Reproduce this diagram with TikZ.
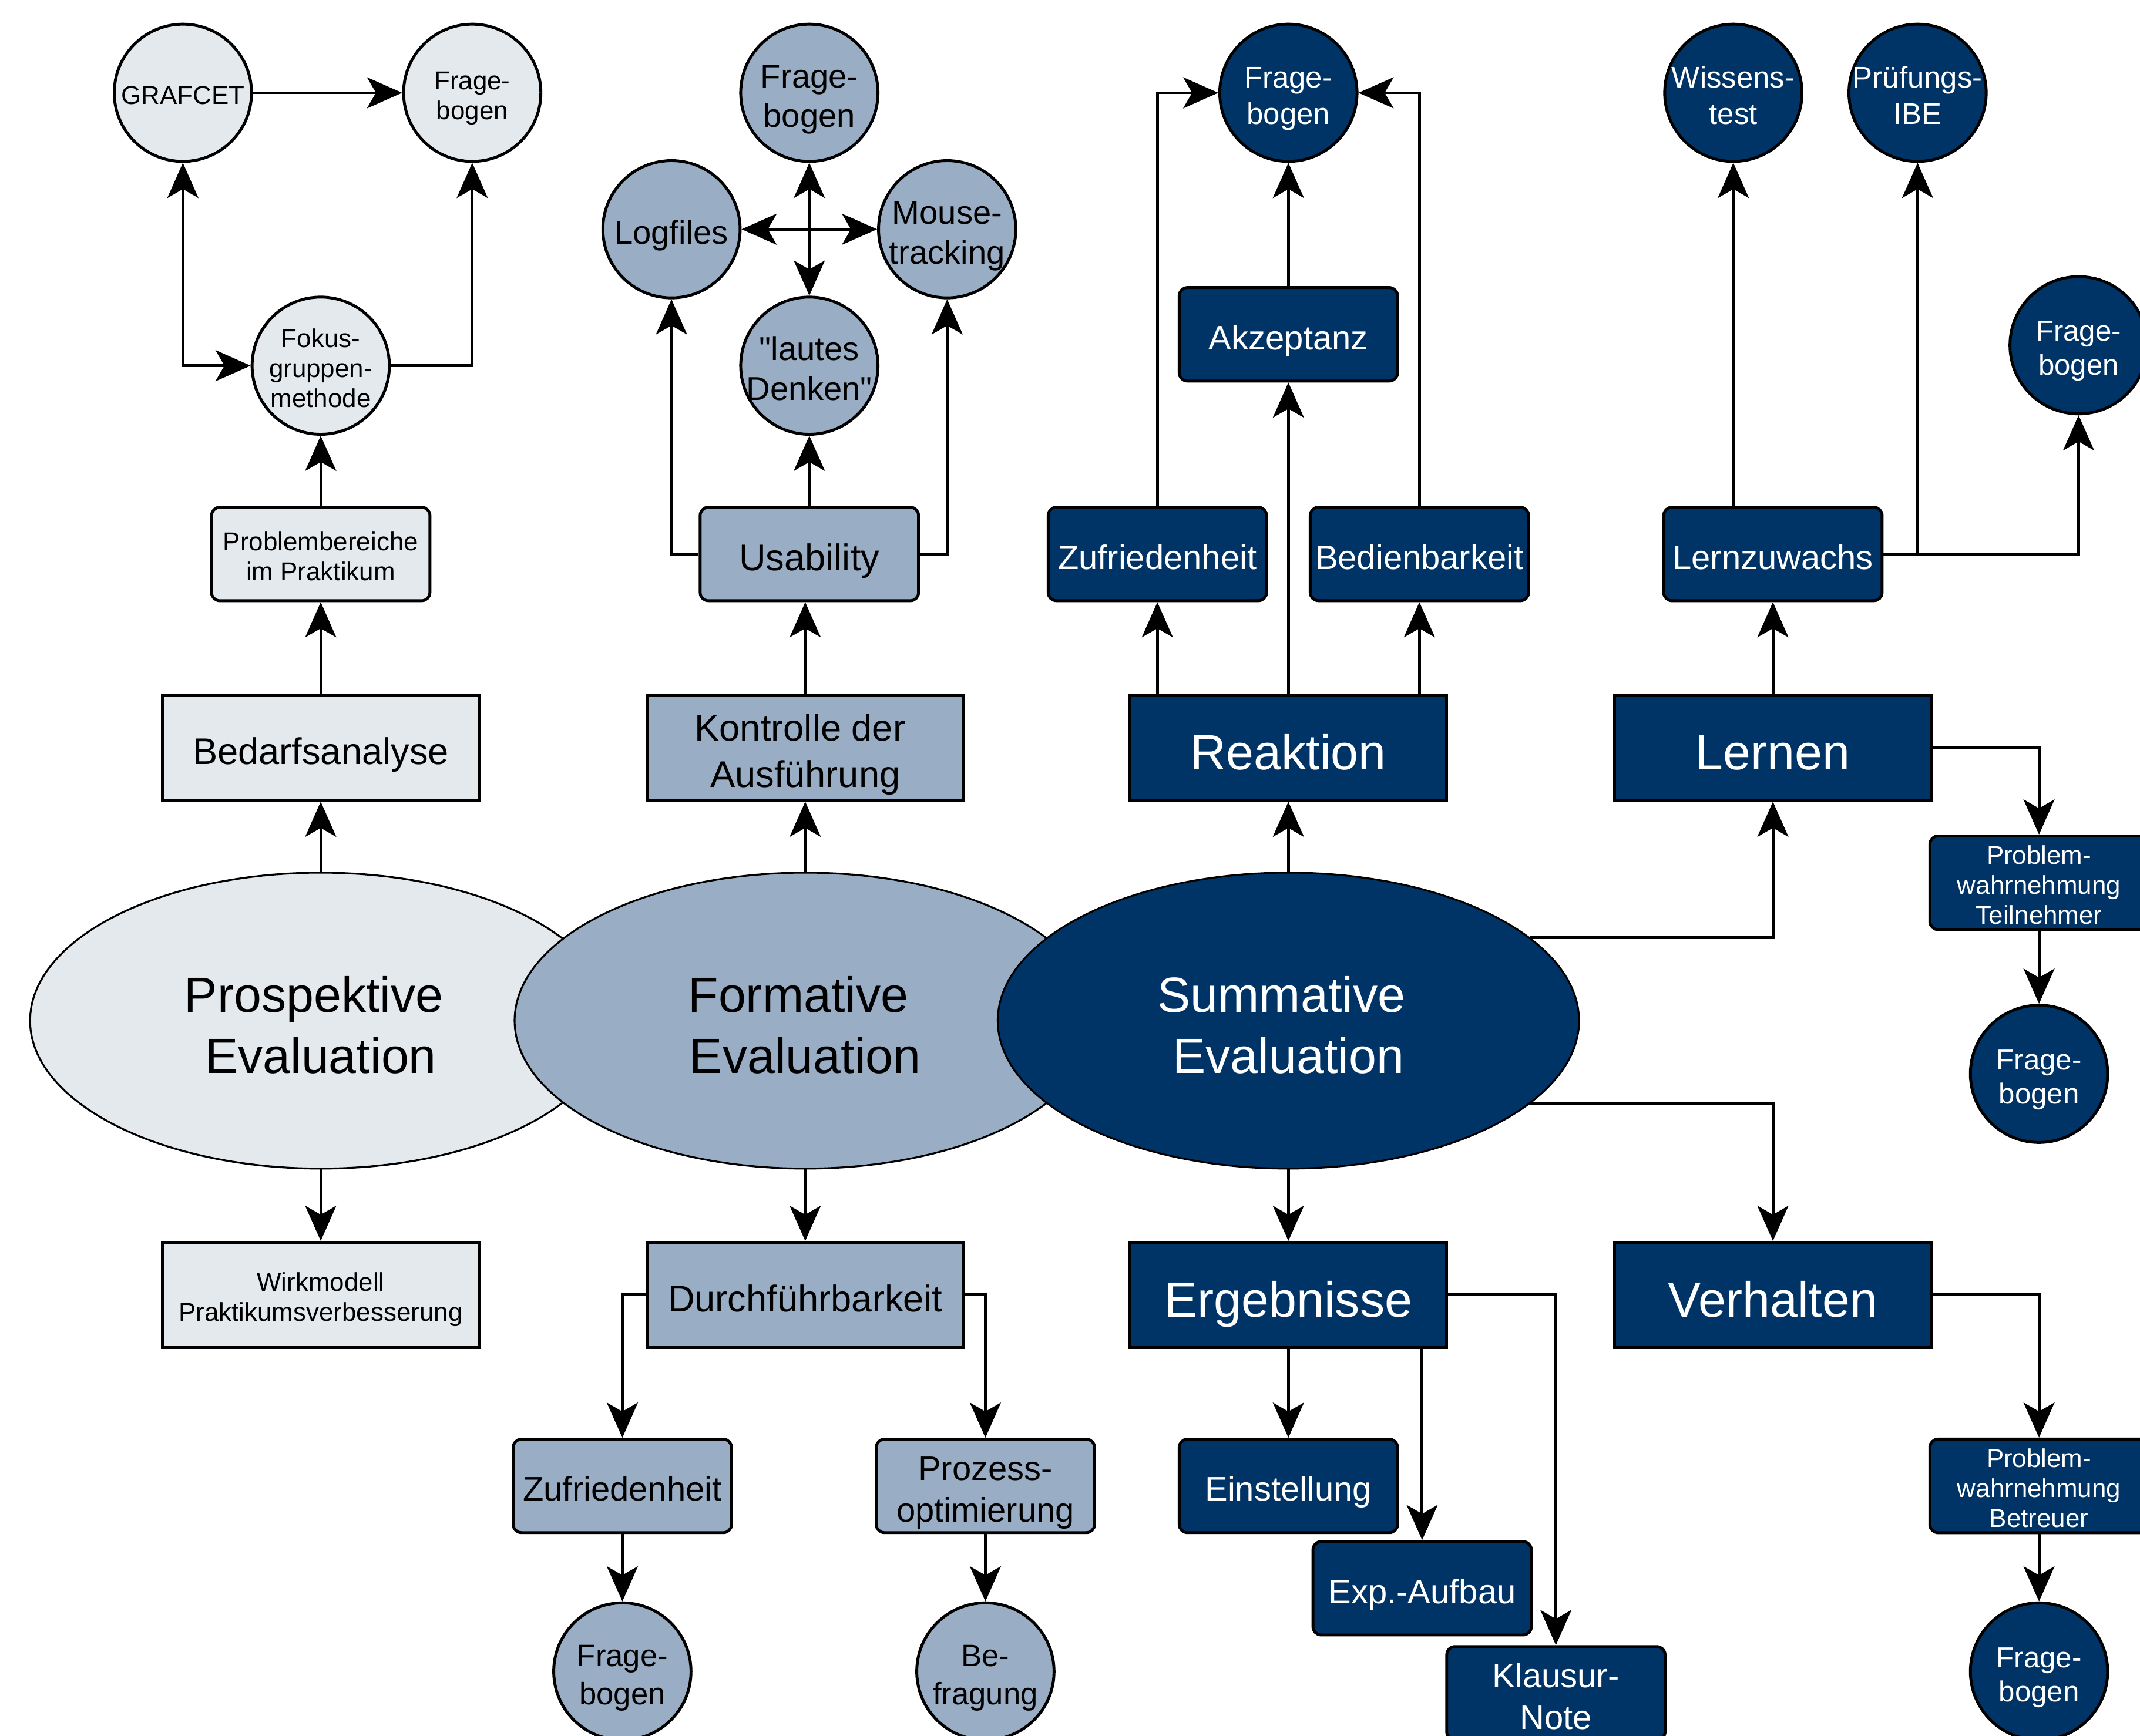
\documentclass[tikz,border=0pt]{standalone}
\usepackage{fontspec}
\setmainfont{Liberation Sans}[Ligatures=TeXOff]
\usetikzlibrary{shapes.geometric, arrows.meta}

\definecolor{lightfill}{RGB}{228,233,238}
\definecolor{midfill}{RGB}{153,174,196}
\definecolor{darkfill}{RGB}{0,51,102}

\begin{document}
\begin{tikzpicture}[x=0.023234cm, y=-0.023234cm, line width=1.4pt,
		>={Stealth[length=17pt, width=15pt, inset=4.3pt]},
		boxtext/.style={align=center, execute at begin node={\rule{0pt}{1.1em}}, execute at end node={\rule[-0.21em]{0pt}{0pt}}},
		nlines/.style={execute at begin node={\vrule width 0pt height \dimexpr#1\baselineskip-\baselineskip+1.1em\relax depth 0pt}},
		evalnode/.style={ellipse, draw, line width=0.9pt, minimum width=281.6pt, minimum height=143.4pt, inner sep=0pt, boxtext, nlines=2, font=\fontsize{24}{29.5}\selectfont},
		mainbox/.style={rectangle, draw, minimum width=153.4pt, minimum height=50.9pt, inner sep=0pt, boxtext},
		subbox/.style={rectangle, draw, rounded corners=4pt, minimum width=105.8pt, minimum height=45.3pt, inner sep=0pt, boxtext},
		leaf/.style={circle, draw, minimum size=66.5pt, inner sep=-6pt, boxtext},
		lightc/.style={fill=lightfill, text=black},
		midc/.style={fill=midfill, text=black},
		darkc/.style={fill=darkfill, text=white},
		sz125/.style={font=\fontsize{12.5}{14.5}\selectfont},
		sz14/.style={font=\fontsize{14}{16.5}\selectfont},
		sz145/.style={font=\fontsize{14.5}{17.8}\selectfont},
		sz15/.style={font=\fontsize{15}{18.5}\selectfont},
		sz16/.style={font=\fontsize{16}{19.2}\selectfont},
		sz165/.style={font=\fontsize{16.5}{20}\selectfont},
		sz18/.style={font=\fontsize{18}{22.5}\selectfont},
		sz24/.style={font=\fontsize{24}{29}\selectfont}]
	\useasboundingbox (0,0) rectangle (1568,1272);

	% evaluation types
	\node[evalnode, lightc] (prosp) at (235,748) {Prospektive\kern0.28em\\Evaluation};
	\node[evalnode, midc] (form) at (590,748) {Formative\kern0.28em\\Evaluation};
	\node[evalnode, darkc] (summ) at (944,748) {Summative\kern0.28em\\Evaluation};

	% prospective
	\node[mainbox, lightc, sz18] (bedarf) at (235,548) {Bedarfsanalyse};
	\node[mainbox, lightc, sz125, nlines=2] (wirk) at (235,949) {Wirkmodell\\Praktikumsverbesserung};
	\node[subbox, lightc, sz125, nlines=2] (probl) at (235,406) {Problembereiche\\im Praktikum};
	\node[leaf, lightc, sz125, nlines=3] (fokus) at (235,268) {Fokus-\\gruppen-\\methode};
	\node[leaf, lightc, sz125] (grafcet) at (134,68) {GRAFCET};
	\node[leaf, lightc, sz125, nlines=2] (frageA) at (346,68) {Frage-\\bogen};

	% formative
	\node[mainbox, midc, sz18, nlines=2] (kontr) at (590,548) {Kontrolle der\kern0.28em\\Ausführung};
	\node[mainbox, midc, sz18] (durch) at (590,949) {Durchführbarkeit};
	\node[subbox, midc, sz18] (usab) at (593,406) {Usability};
	\node[leaf, midc, sz16, nlines=2] (lautes) at (593,268) {"lautes\\Denken"};
	\node[leaf, midc, sz16] (logf) at (492,168) {Logfiles};
	\node[leaf, midc, sz16, nlines=2] (mouse) at (694,168) {Mouse-\\tracking};
	\node[leaf, midc, sz16, nlines=2] (frageB) at (593,68) {Frage-\\bogen};
	\node[subbox, midc, sz165] (zufrA) at (456,1089) {Zufriedenheit};
	\node[subbox, midc, sz165, nlines=2] (proz) at (722,1089) {Prozess-\\optimierung};
	\node[leaf, midc, sz15, nlines=2] (frageC) at (456,1225) {Frage-\\bogen};
	\node[leaf, midc, sz15, nlines=2] (befr) at (722,1225) {Be-\\fragung};

	% summative
	\node[mainbox, darkc, sz24] (reakt) at (944,548) {Reaktion};
	\node[mainbox, darkc, sz24] (lernen) at (1299,548) {Lernen};
	\node[mainbox, darkc, sz24] (ergeb) at (944,949) {Ergebnisse};
	\node[mainbox, darkc, sz24] (verh) at (1299,949) {Verhalten};
	\node[subbox, darkc, sz165] (akz) at (944,245) {Akzeptanz};
	\node[subbox, darkc, sz165] (zufrB) at (848,406) {Zufriedenheit};
	\node[subbox, darkc, sz165] (bedien) at (1040,406) {Bedienbarkeit};
	\node[subbox, darkc, sz165] (lernz) at (1299,406) {Lernzuwachs};
	\node[leaf, darkc, sz145, nlines=2] (frageD) at (944,68) {Frage-\\bogen};
	\node[leaf, darkc, sz145, nlines=2] (wissen) at (1270,68) {Wissens-\\test};
	\node[leaf, darkc, sz145, nlines=2] (pruef) at (1405,68) {Prüfungs-\\IBE};
	\node[leaf, darkc, sz14, nlines=2] (frageE) at (1523,253) {Frage-\\bogen};
	\node[subbox, darkc, sz125, nlines=3] (probT) at (1494,647) {Problem-\\wahrnehmung\\Teilnehmer};
	\node[leaf, darkc, sz14, nlines=2] (frageF) at (1494,787) {Frage-\\bogen};
	\node[subbox, darkc, sz125, nlines=3] (probB) at (1494,1089) {Problem-\\wahrnehmung\\Betreuer};
	\node[leaf, darkc, sz14, nlines=2] (frageG) at (1494,1225) {Frage-\\bogen};
	\node[subbox, darkc, sz165] (einst) at (944,1089) {Einstellung};
	\node[subbox, darkc, sz165] (expauf) at (1042,1164) {Exp.-Aufbau};
	\node[subbox, darkc, sz165, nlines=2] (klaus) at (1140,1241) {Klausur-\\Note};

	% connectors prospective
	\draw[->] (prosp) -- (bedarf);
	\draw[->] (bedarf) -- (probl);
	\draw[->] (probl) -- (fokus);
	\draw[<->] (grafcet) |- (fokus);
	\draw[->] (fokus) -| (frageA);
	\draw[->] (grafcet) -- (frageA);
	\draw[->] (prosp) -- (wirk);

	% connectors formative
	\draw[->] (form) -- (kontr);
	\draw[->] (kontr.north) -- (kontr.north |- usab.south);
	\draw[->] (usab) -- (lautes);
	\draw[->] (usab) -| (logf);
	\draw[->] (usab) -| (mouse);
	\draw[<->] (frageB) -- (lautes);
	\draw[<->] (logf) -- (mouse);
	\draw[->] (form) -- (durch);
	\draw[->] (durch) -| (zufrA);
	\draw[->] (durch) -| (proz);
	\draw[->] (zufrA) -- (frageC);
	\draw[->] (proz) -- (befr);

	% connectors summative
	\draw[->] (summ) -- (reakt);
	\draw[->] (reakt) -- (akz);
	\draw[->] (akz) -- (frageD);
	\draw[->] (reakt.north -| zufrB) -- (zufrB);
	\draw[->] (reakt.north -| bedien) -- (bedien);
	\draw[->] (zufrB) |- (frageD);
	\draw[->] (bedien) |- (frageD);
	\draw[->] (summ) -- (ergeb);
	\draw[->] (ergeb) -- (einst);
	\draw[->] (ergeb.south -| expauf) -- (expauf);
	\draw[->] (ergeb) -| (klaus);
	\draw[->] (summ.19) -| (lernen);
	\draw[->] (summ.-19) -| (verh);
	\draw[->] (lernen) -- (lernz);
	\draw[->] (lernz.north -| wissen) -- (wissen);
	\draw[->] (lernz.east -| pruef) -- (pruef);
	\draw[->] (lernz) -| (frageE);
	\draw[->] (lernen) -| (probT);
	\draw[->] (probT) -- (frageF);
	\draw[->] (verh) -| (probB);
	\draw[->] (probB) -- (frageG);
\end{tikzpicture}
\end{document}
